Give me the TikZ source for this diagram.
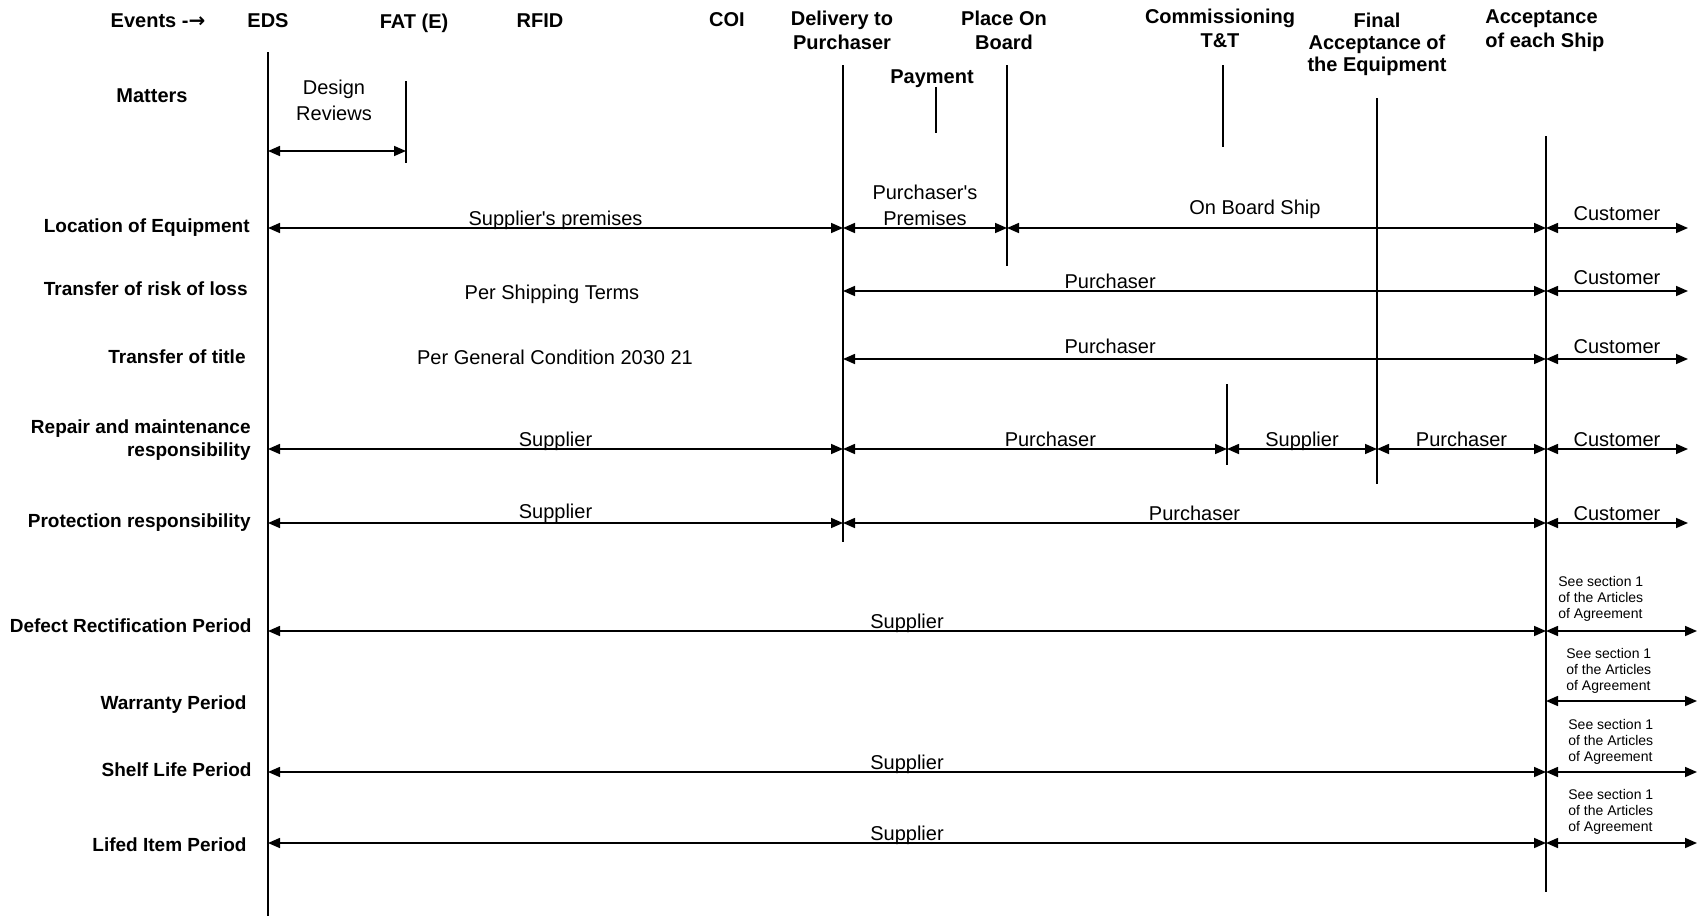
\documentclass[tikz,border=0pt]{standalone}
\usepackage{fontspec}
\setmainfont{Liberation Sans}[Ligatures=TeXOff]
\newfontfamily\arrowfont{DejaVu Sans}
\usetikzlibrary{positioning, arrows.meta}

\begin{document}
\begin{tikzpicture}[x=0.5pt, y=-0.5pt,
    font=\fontsize{10}{12}\selectfont,
    hdr/.style = {font=\fontsize{10}{12}\selectfont\bfseries, align=center, inner sep=0pt},
    rowlbl/.style = {font=\fontsize{9.5}{11.5}\selectfont\bfseries, align=right, anchor=east, inner sep=0pt},
    lbl/.style = {above, inner sep=1pt, text depth=0pt, align=center},
    note/.style = {font=\fontsize{7}{8}\selectfont, align=left, anchor=west, inner sep=0pt},
    span/.style = {{Triangle[length=6pt,width=5pt]}-{Triangle[length=6pt,width=5pt]}, line width=0.8pt},
    tick/.style = {line width=0.8pt}]
  \useasboundingbox (0,0) rectangle (1705,916);

  % events
  \node[hdr] (events) at (158,21) {Events -{\arrowfont\bfseries →}};
  \node[hdr] (eds) at (268,21) {EDS};
  \node[hdr] (fat) at (414,23) {FAT (E)};
  \node[hdr] (rfid) at (540,21) {RFID};
  \node[hdr] (coi) at (727,20) {COI};
  \node[hdr] (deliv) at (842,30) {Delivery to\\Purchaser};
  \node[hdr] (pob) at (1004,30) {Place On\\Board};
  \node[hdr] (comm) at (1220,28) {Commissioning\\T\&T};
  \node[hdr, font=\fontsize{10}{11}\selectfont\bfseries] (final) at (1377,44) {Final\\Acceptance of\\the Equipment};
  \node[hdr, align=left, anchor=west] (accept) at (1485,31) {Acceptance\\of each Ship};
  \node[hdr] (pay) at (932,79) {Payment};
  \node[hdr] (matters) at (152,96) {Matters};
  \node[align=center, inner sep=0pt, font=\fontsize{10}{13}\selectfont] (design) at (334,100) {Design\\Reviews};

  % event lines
  \coordinate (edsT) at (268,52);   \coordinate (edsB) at (268,916);
  \coordinate (fatT) at (406,81);   \coordinate (fatB) at (406,163);
  \coordinate (delT) at (843,65);   \coordinate (delB) at (843,542);
  \coordinate (payT) at (936,87);   \coordinate (payB) at (936,133);
  \coordinate (pobT) at (1007,65);  \coordinate (pobB) at (1007,266);
  \coordinate (comT) at (1223,65);  \coordinate (comB) at (1223,147);
  \coordinate (ttT) at (1227,384);  \coordinate (ttB) at (1227,465);
  \coordinate (finT) at (1377,98);  \coordinate (finB) at (1377,484);
  \coordinate (accT) at (1546,136); \coordinate (accB) at (1546,892);
  \coordinate (endC) at (1688,0);   \coordinate (endN) at (1697,0);
  \draw[tick] (edsT) -- (edsB);
  \draw[tick] (fatT) -- (fatB);
  \draw[tick] (delT) -- (delB);
  \draw[tick] (payT) -- (payB);
  \draw[tick] (pobT) -- (pobB);
  \draw[tick] (comT) -- (comB);
  \draw[tick] (ttT) -- (ttB);
  \draw[tick] (finT) -- (finB);
  \draw[tick] (accT) -- (accB);

  % rows
  \coordinate (rDes) at (0,151);
  \coordinate (rLoc) at (0,228);
  \coordinate (rRisk) at (0,291);
  \coordinate (rTitle) at (0,359);
  \coordinate (rRep) at (0,449);
  \coordinate (rProt) at (0,523);
  \coordinate (rDef) at (0,631);
  \coordinate (rWar) at (0,701);
  \coordinate (rShelf) at (0,772);
  \coordinate (rLife) at (0,843);

  \node[rowlbl] (locl) at (250,228) {Location of Equipment};
  \node[rowlbl] (riskl) at (248,289) {Transfer of risk of loss};
  \node[rowlbl] (titlel) at (246,357) {Transfer of title};
  \node[rowlbl] (repl) at (251,440) {Repair and maintenance\\responsibility};
  \node[rowlbl] (protl) at (251,523) {Protection responsibility};
  \node[rowlbl] (defl) at (252,626) {Defect Rectification Period};
  \node[rowlbl] (warl) at (247,705) {Warranty Period};
  \node[rowlbl] (shelfl) at (252,770) {Shelf Life Period};
  \node[rowlbl] (lifel) at (247,845) {Lifed Item Period};

  \draw[span] (edsT |- rDes) -- (fatT |- rDes);

  \draw[span] (edsT |- rLoc) -- node[lbl] {Supplier's premises} (delT |- rLoc);
  \draw[span] (delT |- rLoc) -- node[lbl, font=\fontsize{10}{13}\selectfont] {Purchaser's\\Premises} (pobT |- rLoc);
  \draw[span] (pobT |- rLoc) -- node[lbl, pos=0.46, yshift=5.5pt] {On Board Ship} (accT |- rLoc);
  \draw[span] (accT |- rLoc) -- node[lbl, yshift=2.5pt] {Customer} (endC |- rLoc);

  \node (riskterms) at (552,294) {Per Shipping Terms};
  \draw[span] (delT |- rRisk) -- node[lbl, pos=0.38] {Purchaser} (accT |- rRisk);
  \draw[span] (accT |- rRisk) -- node[lbl, yshift=2pt] {Customer} (endC |- rRisk);

  \node (titleterms) at (555,357) {Per General Condition 2030 21};
  \draw[span] (delT |- rTitle) -- node[lbl, pos=0.38, yshift=1.5pt] {Purchaser} (accT |- rTitle);
  \draw[span] (accT |- rTitle) -- node[lbl, yshift=1.5pt] {Customer} (endC |- rTitle);

  \draw[span] (edsT |- rRep) -- node[lbl] {Supplier} (delT |- rRep);
  \draw[span] (delT |- rRep) -- node[lbl, pos=0.54] {Purchaser} (ttT |- rRep);
  \draw[span] (ttT |- rRep) -- node[lbl] {Supplier} (finT |- rRep);
  \draw[span] (finT |- rRep) -- node[lbl] {Purchaser} (accT |- rRep);
  \draw[span] (accT |- rRep) -- node[lbl] {Customer} (endC |- rRep);

  \draw[span] (edsT |- rProt) -- node[lbl, yshift=1pt] {Supplier} (delT |- rProt);
  \draw[span] (delT |- rProt) -- node[lbl] {Purchaser} (accT |- rProt);
  \draw[span] (accT |- rProt) -- node[lbl] {Customer} (endC |- rProt);

  \draw[span] (edsT |- rDef) -- node[lbl] {Supplier} (accT |- rDef);
  \draw[span] (accT |- rDef) -- (endN |- rDef);
  \node[note] (defn) at (1558,599) {See section 1\\of the Articles\\of Agreement};

  \draw[span] (accT |- rWar) -- (endN |- rWar);
  \node[note] (warn) at (1566,671) {See section 1\\of the Articles\\of Agreement};

  \draw[span] (edsT |- rShelf) -- node[lbl] {Supplier} (accT |- rShelf);
  \draw[span] (accT |- rShelf) -- (endN |- rShelf);
  \node[note] (shelfn) at (1568,742) {See section 1\\of the Articles\\of Agreement};

  \draw[span] (edsT |- rLife) -- node[lbl] {Supplier} (accT |- rLife);
  \draw[span] (accT |- rLife) -- (endN |- rLife);
  \node[note] (lifen) at (1568,812) {See section 1\\of the Articles\\of Agreement};
\end{tikzpicture}
\end{document}
